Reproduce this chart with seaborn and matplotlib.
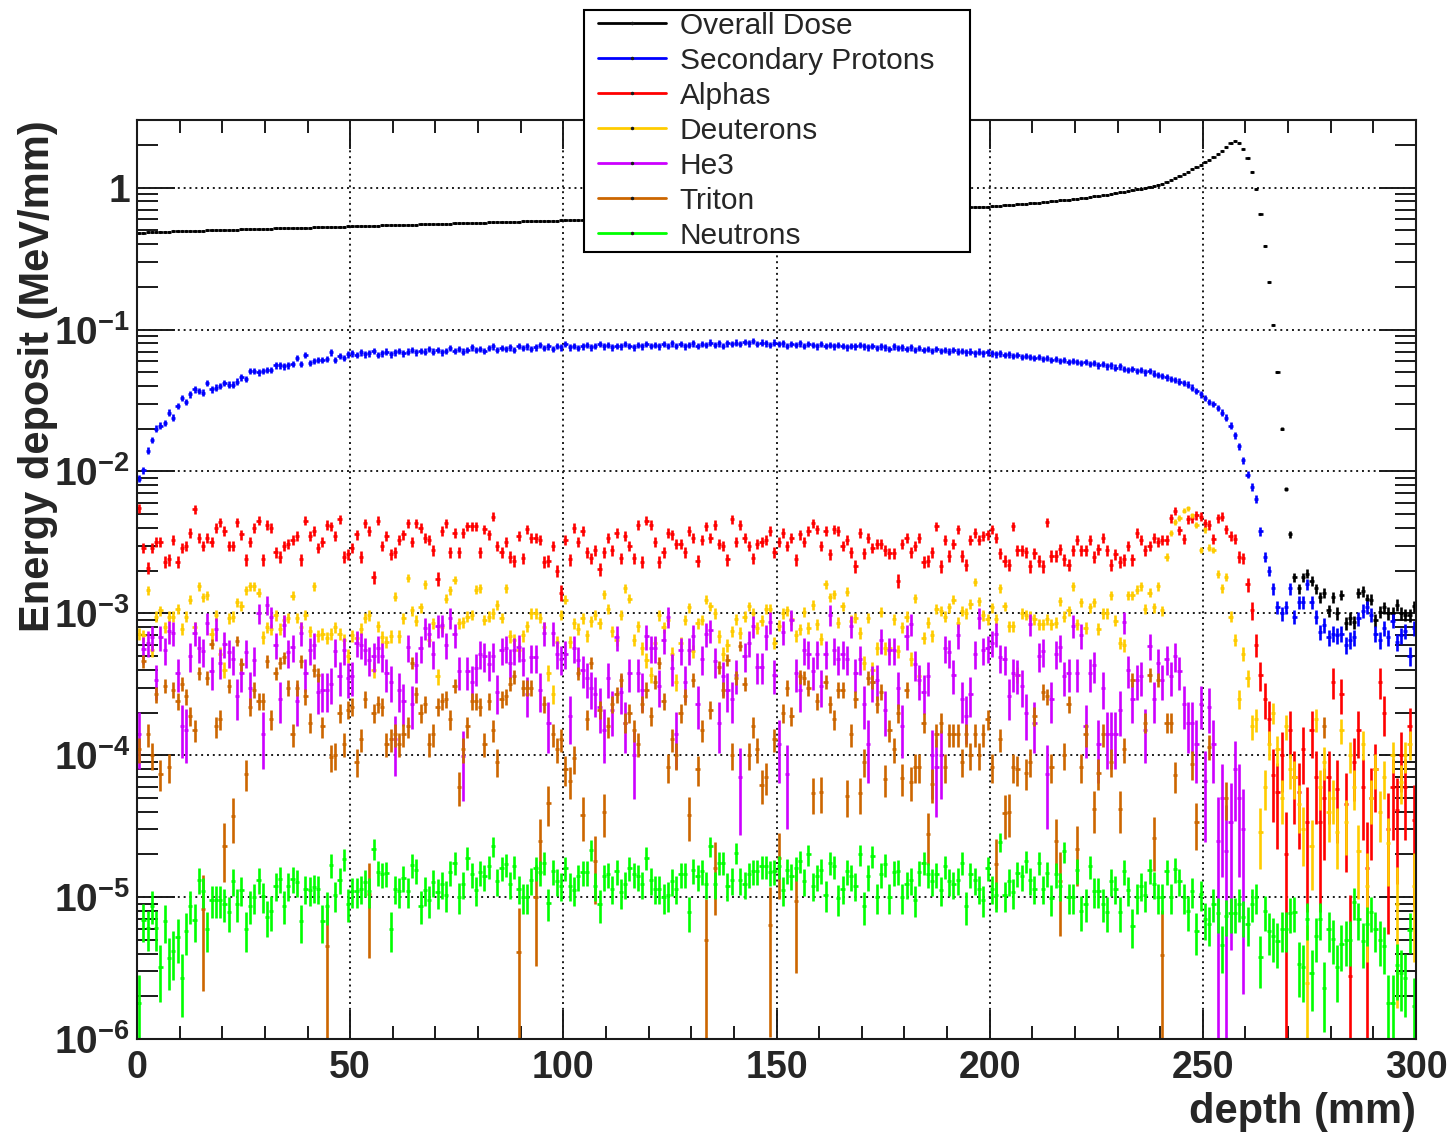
import numpy as np
import matplotlib
matplotlib.use("Agg")
import matplotlib.pyplot as plt
from matplotlib.lines import Line2D
from matplotlib.patches import Rectangle
from matplotlib.ticker import LogLocator, NullFormatter
import seaborn as sns

# Style
sns.set_theme(style="ticks")
plt.rcParams['font.family'] = ['Liberation Sans', 'DejaVu Sans']
plt.rcParams['mathtext.fontset'] = 'custom'
plt.rcParams['mathtext.bf'] = 'Liberation Sans:bold'
plt.rcParams['mathtext.rm'] = 'Liberation Sans:bold'
plt.rcParams['mathtext.default'] = 'bf'

nan = np.nan

# 1 mm bins, 0..300 mm
depth = np.arange(300) + 0.5

# Overall dose (MeV/mm)
overall_dose = np.array([
    0.480, 0.482, 0.484, 0.486, 0.487, 0.489, 0.490, 0.491, 0.492, 0.493,
    0.494, 0.495, 0.496, 0.497, 0.498, 0.499, 0.500, 0.501, 0.502, 0.503,
    0.504, 0.505, 0.506, 0.507, 0.508, 0.509, 0.510, 0.511, 0.512, 0.513,
    0.514, 0.515, 0.516, 0.517, 0.518, 0.519, 0.520, 0.521, 0.522, 0.523,
    0.524, 0.525, 0.526, 0.527, 0.528, 0.529, 0.530, 0.531, 0.532, 0.533,
    0.535, 0.536, 0.537, 0.538, 0.539, 0.540, 0.541, 0.542, 0.543, 0.544,
    0.545, 0.546, 0.547, 0.548, 0.549, 0.550, 0.551, 0.552, 0.553, 0.554,
    0.556, 0.557, 0.558, 0.559, 0.560, 0.561, 0.562, 0.563, 0.565, 0.566,
    0.567, 0.568, 0.569, 0.570, 0.572, 0.573, 0.574, 0.575, 0.576, 0.577,
    0.578, 0.579, 0.580, 0.582, 0.583, 0.584, 0.585, 0.586, 0.587, 0.588,
    0.590, 0.591, 0.592, 0.594, 0.595, 0.596, 0.598, 0.599, 0.600, 0.602,
    0.603, 0.604, 0.606, 0.607, 0.609, 0.610, 0.611, 0.613, 0.614, 0.616,
    0.617, 0.619, 0.620, 0.622, 0.623, 0.625, 0.626, 0.628, 0.629, 0.631,
    0.632, 0.634, 0.635, 0.637, 0.638, 0.640, 0.641, 0.643, 0.645, 0.646,
    0.648, 0.649, 0.651, 0.653, 0.654, 0.656, 0.657, 0.659, 0.661, 0.662,
    0.664, 0.666, 0.667, 0.669, 0.671, 0.672, 0.674, 0.676, 0.677, 0.679,
    0.681, 0.682, 0.684, 0.686, 0.688, 0.689, 0.691, 0.693, 0.695, 0.696,
    0.698, 0.700, 0.702, 0.703, 0.705, 0.707, 0.709, 0.711, 0.712, 0.713,
    0.714, 0.715, 0.716, 0.718, 0.719, 0.720, 0.721, 0.723, 0.724, 0.725,
    0.726, 0.727, 0.728, 0.729, 0.730, 0.731, 0.732, 0.733, 0.735, 0.736,
    0.738, 0.742, 0.746, 0.750, 0.754, 0.758, 0.763, 0.767, 0.772, 0.776,
    0.781, 0.786, 0.791, 0.796, 0.801, 0.807, 0.813, 0.819, 0.825, 0.831,
    0.838, 0.845, 0.852, 0.860, 0.868, 0.877, 0.886, 0.895, 0.905, 0.915,
    0.926, 0.937, 0.949, 0.961, 0.974, 0.987, 1.000, 1.015, 1.030, 1.050,
    1.07, 1.10, 1.13, 1.17, 1.21, 1.25, 1.30, 1.35, 1.40, 1.45,
    1.51, 1.58, 1.65, 1.73, 1.82, 1.92, 2.05, 2.12, 2.08, 1.88,
    1.62, 1.30, 0.98, 0.65, 0.39, 0.216, 0.108, 0.050, 0.020, 0.0075,
    0.0036, 0.0018, 0.0015, 0.0018, 0.0019, 0.0017, 0.0015, 0.0013, 0.0014, 0.00105,
    0.0013, 0.0010, 0.00135, 0.00085, 0.00092, 0.00087, 0.0014, 0.00143, 0.00126, 0.00125,
    0.0009, 0.00103, 0.0011, 0.0010, 0.0010, 0.00115, 0.0010, 0.00098, 0.00097, 0.00112,
])

# Secondary protons (MeV/mm)
protons = np.array([
    0.0089, 0.0102, 0.014, 0.0167, 0.020, 0.021, 0.022, 0.026, 0.024, 0.029,
    0.033, 0.031, 0.035, 0.038, 0.037, 0.036, 0.042, 0.038, 0.039, 0.040,
    0.042, 0.041, 0.041, 0.043, 0.046, 0.045, 0.051, 0.051, 0.050, 0.051,
    0.052, 0.052, 0.056, 0.056, 0.055, 0.056, 0.057, 0.063, 0.057, 0.066,
    0.058, 0.060, 0.061, 0.061, 0.062, 0.069, 0.061, 0.065, 0.063, 0.067,
    0.068, 0.066, 0.069, 0.067, 0.068, 0.071, 0.066, 0.068, 0.070, 0.067,
    0.069, 0.071, 0.068, 0.070, 0.072, 0.069, 0.071, 0.070, 0.073, 0.070,
    0.072, 0.069, 0.071, 0.074, 0.071, 0.073, 0.070, 0.072, 0.075, 0.072,
    0.073, 0.071, 0.074, 0.076, 0.072, 0.074, 0.073, 0.075, 0.072, 0.077,
    0.074, 0.076, 0.073, 0.075, 0.078, 0.074, 0.076, 0.073, 0.077, 0.075,
    0.079, 0.075, 0.077, 0.074, 0.076, 0.078, 0.075, 0.077, 0.079, 0.076,
    0.078, 0.075, 0.077, 0.076, 0.079, 0.077, 0.075, 0.078, 0.076, 0.079,
    0.077, 0.078, 0.076, 0.079, 0.077, 0.080, 0.077, 0.079, 0.076, 0.078,
    0.080, 0.077, 0.079, 0.078, 0.081, 0.078, 0.080, 0.077, 0.080, 0.079,
    0.081, 0.079, 0.082, 0.080, 0.083, 0.079, 0.081, 0.080, 0.078, 0.081,
    0.079, 0.080, 0.077, 0.079, 0.078, 0.080, 0.077, 0.079, 0.078, 0.076,
    0.079, 0.077, 0.078, 0.076, 0.078, 0.077, 0.075, 0.077, 0.076, 0.078,
    0.076, 0.075, 0.077, 0.074, 0.076, 0.075, 0.073, 0.076, 0.074, 0.075,
    0.073, 0.075, 0.072, 0.074, 0.072, 0.073, 0.071, 0.073, 0.071, 0.072,
    0.070, 0.072, 0.070, 0.071, 0.069, 0.070, 0.068, 0.070, 0.068, 0.069,
    0.068, 0.067, 0.068, 0.066, 0.067, 0.065, 0.066, 0.064, 0.065, 0.064,
    0.063, 0.064, 0.062, 0.063, 0.061, 0.062, 0.060, 0.061, 0.059, 0.060,
    0.059, 0.058, 0.059, 0.057, 0.058, 0.056, 0.057, 0.055, 0.056, 0.054,
    0.055, 0.053, 0.052, 0.053, 0.051, 0.052, 0.050, 0.051, 0.049, 0.048,
    0.047, 0.046, 0.045, 0.044, 0.043, 0.042, 0.041, 0.039, 0.037, 0.035,
    0.033, 0.031, 0.030, 0.028, 0.026, 0.024, 0.021, 0.018, 0.015, 0.012,
    0.0095, 0.0078, 0.0064, 0.0038, 0.0025, 0.0020, 0.0015, 0.0011, 0.0010, 0.0011,
    0.0015, 0.00095, 0.0012, 0.0012, 0.0016, 0.0012, 0.00095, 0.00074, 0.00083, 0.00068,
    0.00072, 0.00070, 0.00072, 0.00060, 0.00065, 0.00068, 0.00092, 0.00104, 0.0011, 0.00098,
    0.00072, 0.00065, 0.00079, 0.00068, 0.00089, 0.00063, 0.00070, 0.00075, 0.00050, 0.00079,
])

# Alphas (x 1e-3 MeV/mm)
alphas = np.array([
    5.5, 2.9, 2.1, 2.9, 3.2, 3.2, 2.3, 2.4, 3.3, 2.3,
    2.9, 3.0, 3.7, 5.4, 3.4, 3.0, 3.4, 3.2, 4.0, 4.4,
    3.8, 3.0, 3.0, 4.4, 3.6, 2.4, 3.2, 4.0, 4.5, 2.4,
    4.2, 4.0, 2.7, 2.5, 3.0, 3.1, 3.3, 3.5, 2.4, 4.5,
    3.5, 3.8, 2.9, 3.2, 4.2, 4.1, 3.5, 4.6, 2.5, 2.6,
    2.9, 3.6, 2.5, 4.3, 3.8, 1.8, 4.5, 3.0, 3.5, 2.6,
    2.7, 3.3, 3.6, 4.3, 3.2, 4.3, 4.0, 3.4, 3.3, 2.8,
    1.75, 3.8, 4.3, 2.7, 3.7, 2.7, 3.7, 4.1, 4.1, 4.1,
    2.7, 3.9, 3.6, 4.8, 3.0, 2.7, 3.2, 2.5, 2.35, 3.5,
    2.45, 3.9, 3.4, 3.4, 3.3, 2.3, 2.35, 3.0, 2.0, 1.4,
    3.3, 2.4, 4.0, 3.2, 3.8, 2.7, 2.45, 2.8, 2.05, 2.7,
    3.4, 2.8, 3.7, 2.45, 3.5, 3.0, 2.45, 4.2, 2.3, 4.5,
    4.2, 3.2, 2.3, 2.7, 3.7, 3.6, 3.1, 3.1, 2.7, 3.8,
    3.4, 2.35, 3.3, 4.1, 3.4, 4.2, 3.1, 3.0, 2.4, 4.6,
    3.2, 4.2, 3.4, 3.0, 2.45, 3.1, 3.2, 3.3, 3.8, 2.7,
    3.2, 3.7, 3.0, 3.4, 2.4, 3.6, 3.2, 3.8, 4.3, 3.9,
    3.0, 3.8, 2.6, 3.9, 3.8, 3.0, 3.3, 2.7, 2.15, 3.7,
    2.65, 3.4, 2.9, 3.1, 3.1, 2.8, 2.65, 2.65, 1.7, 3.1,
    3.4, 2.7, 3.0, 3.4, 2.3, 2.35, 2.7, 4.1, 2.15, 3.3,
    2.55, 3.1, 3.9, 2.55, 2.2, 3.3, 3.7, 3.3, 3.5, 3.6,
    3.9, 3.4, 2.65, 2.35, 2.2, 4.1, 2.8, 2.8, 2.7, 2.15,
    2.65, 2.35, 2.15, 4.4, 2.55, 2.55, 2.85, 2.4, 2.2, 2.8,
    3.3, 2.8, 2.8, 3.3, 2.5, 2.85, 3.4, 2.8, 2.2, 2.6,
    2.3, 2.4, 3.0, 2.4, 3.7, 3.3, 2.8, 3.0, 3.4, 3.2,
    3.3, 3.3, 4.7, 5.3, 3.85, 3.35, 4.6, 4.7, 4.9, 4.8,
    4.3, 4.2, 3.35, 4.7, 4.8, 3.9, 3.5, 3.35, 2.5, 2.45,
    1.6, 1.05, 0.6, 0.37, 0.25, 0.18, 0.072, 0.055, 0.10, 0.02,
    0.15, 0.07, 0.055, 0.11, 0.034, 0.15, 0.07, 0.034, 0.05, 0.07,
    0.33, 0.058, 0.27, 0.045, 0.0028, 0.09, 0.15, 0.06, 0.016, 0.05,
    0.08, 0.33, 0.20, 0.03, 0.06, 0.041, 0.1, 0.06, 0.16, 0.035,
]) * 1e-3

# Deuterons (x 1e-3 MeV/mm)
deuterons = np.array([
    0.72, 0.70, 1.46, 0.55, 0.95, 1.05, 0.80, 0.95, 0.95, 1.07,
    0.78, 0.95, 1.25, 0.80, 1.55, 1.30, 1.35, 0.72, 0.97, 0.52,
    0.40, 0.92, 0.95, 1.2, 1.13, 1.45, 1.55, 1.55, 1.40, 0.68,
    0.80, 0.77, 0.97, 0.78, 0.90, 0.93, 1.33, 0.93, 0.80, 0.98,
    0.75, 1.55, 0.70, 0.72, 0.67, 0.72, 0.80, 0.72, 0.65, 0.50,
    0.70, 0.67, 0.78, 0.93, 0.97, 0.40, 0.81, 0.68, 0.63, 0.69,
    1.31, 0.69, 0.92, 1.77, 1.05, 0.89, 1.1, 1.6, 0.65, 0.85,
    0.36, 0.8, 1.27, 1.45, 1.72, 0.85, 0.87, 0.95, 0.98, 1.47,
    1.5, 0.9, 0.95, 1.0, 1.15, 0.93, 1.5, 0.69, 0.65, 0.55,
    0.7, 0.81, 1.0, 1.0, 0.93, 0.8, 0.38, 0.27, 0.63, 0.98,
    1.25, 0.63, 0.85, 0.78, 0.92, 0.7, 0.88, 0.98, 0.85, 1.37,
    1.08, 0.75, 0.65, 0.98, 1.5, 1.27, 0.65, 0.81, 0.57, 0.47,
    0.37, 0.62, 0.97, 0.8, 0.9, 0.52, 0.33, 0.62, 0.9, 1.1,
    0.54, 0.85, 0.9, 1.25, 1.12, 1.0, 0.69, 0.52, 0.6, 0.75,
    0.91, 0.73, 0.95, 1.12, 1.0, 0.79, 0.89, 1.08, 1.08, 0.62,
    0.82, 1.0, 1.05, 0.91, 0.7, 0.77, 1.03, 0.79, 1.15, 0.84,
    0.66, 1.6, 1.3, 1.37, 0.86, 1.12, 1.42, 0.89, 0.93, 0.73,
    0.45, 0.93, 0.4, 0.57, 1.03, 0.57, 0.57, 0.91, 0.54, 0.8,
    0.95, 0.48, 1.28, 0.36, 0.67, 0.86, 0.7, 1.08, 1.04, 0.95,
    1.1, 1.25, 0.86, 1.04, 1.0, 1.17, 1.67, 1.22, 0.97, 0.91,
    1.1, 0.91, 1.5, 1.12, 0.81, 0.81, 0.37, 1.0, 0.98, 0.95,
    0.91, 0.84, 0.84, 0.91, 0.84, 0.86, 1.22, 0.95, 1.05, 1.55,
    0.84, 1.2, 0.79, 1.1, 1.2, 0.78, 1.0, 1.0, 1.35, 0.89,
    0.62, 0.6, 1.35, 1.35, 1.47, 1.55, 1.08, 1.4, 1.1, 1.55,
    1.05, 2.5, 3.7, 4.4, 4.7, 5.3, 5.5, 4.9, 4.2, 2.8,
    3.9, 2.9, 2.8, 1.9, 1.5, 1.8, 0.95, 0.65, 0.25, 0.52,
    0.35, 0.16, 0.18, 0.029, 0.06, 0.12, 0.20, 0.11, 0.05, 0.16,
    0.08, 0.07, 0.045, 0.03, 0.0025, 0.023, 0.18, 0.06, 0.09, 0.04,
    0.05, 0.029, 0.15, 0.034, 0.10, 0.06, 0.021, 0.12, 0.012, 0.05,
    0.08, 0.04, 0.07, 0.024, 0.1, 0.009, 0.065, 0.10, 0.12, 0.012,
]) * 1e-3

# He3 (x 1e-3 MeV/mm)
he3 = np.array([
    0.14, 0.56, 0.62, 0.68, 0.34, 0.68, 0.55, 0.75, 0.73, 0.38,
    0.16, 0.15, 0.5, 0.73, 0.57, 0.54, 0.85, 0.39, 0.78, 0.45,
    0.61, 0.53, 0.48, 0.26, 0.38, 0.53, 0.3, 0.47, 1.0, 0.14,
    1.15, 0.95, 0.6, 0.25, 0.83, 0.53, 0.58, 0.24, 0.73, 0.38,
    0.55, 0.6, 0.28, 0.29, 0.29, 0.32, 0.54, 0.36, 0.55, 0.35,
    0.36, 0.62, 0.6, 0.55, 0.47, 0.5, 0.57, 0.5, 0.38, 0.33,
    0.13, 0.29, 0.24, 0.58, 0.23, 0.43, 0.57, 0.79, 0.72, 0.52,
    0.82, 0.83, 0.6, 0.93, 0.71, 0.39, 0.098, 0.39, 0.33, 0.41,
    0.52, 0.5, 0.44, 0.5, 0.28, 0.55, 0.57, 0.45, 0.55, 0.58,
    0.47, 0.27, 0.49, 0.49, 0.29, 0.73, 0.17, 0.73, 0.52, 0.48,
    0.52, 0.19, 0.57, 0.47, 0.4, 0.35, 0.3, 0.27, 0.22, 0.15,
    0.35, 0.21, 0.68, 0.28, 0.17, 0.38, 0.1, 0.38, 0.29, 0.69,
    0.57, 0.57, 0.31, 0.65, 0.95, 0.41, 0.14, 0.55, 0.33, 0.55,
    0.69, 0.23, 0.48, 0.72, 0.76, 0.46, 0.17, 0.36, 0.29, 0.25,
    0.37, 0.07, 0.5, 0.62, 0.81, 0.42, 0.42, 0.69, 0.87, 0.37,
    0.12, 0.74, 0.074, 0.9, 0.38, 0.29, 0.55, 0.52, 0.39, 0.52,
    0.31, 0.52, 0.98, 0.55, 0.48, 0.52, 0.48, 0.81, 0.38, 0.48,
    0.23, 0.12, 0.33, 0.34, 0.65, 0.21, 0.55, 0.55, 0.3, 0.16,
    0.69, 0.84, 0.44, 0.34, 0.28, 0.36, 0.1, 0.083, 0.1, 0.57,
    0.53, 0.37, 0.7, 0.25, 0.19, 0.27, 0.52, 0.93, 0.55, 0.57,
    0.62, 0.72, 0.49, 0.48, 0.26, 0.38, 0.37, 0.31, 0.2, 0.84,
    0.17, 0.5, 0.54, 0.074, 0.25, 0.52, 0.58, 0.36, 0.38, 0.82,
    0.38, 0.7, 0.16, 0.38, 0.43, 0.12, 0.3, 0.14, 0.14, 0.14,
    0.21, 0.87, 0.4, 0.25, 0.34, 0.36, 0.15, 0.59, 0.25, 0.45,
    0.34, 0.48, 0.36, 0.5, 0.39, 0.23, 0.17, 0.17, 0.12, 0.23,
    0.066, 0.22, 0.12, 0.025, 0.05, 0.021, 0.034, 0.08, 0.05, 0.03,
    nan, nan, nan, nan, nan, nan, nan, nan, nan, nan,
    nan, nan, nan, nan, nan, nan, nan, nan, nan, nan,
    nan, nan, nan, nan, nan, nan, nan, nan, nan, nan,
    nan, nan, nan, nan, nan, nan, nan, nan, nan, nan,
]) * 1e-3

# Triton (x 1e-3 MeV/mm)
triton = np.array([
    0.11, 0.46, 0.14, 0.1, 0.27, 0.074, 0.31, 0.083, 0.29, 0.24,
    0.32, 0.26, 0.19, 0.15, 0.38, 0.0083, 0.35, 0.61, 0.16, 0.18,
    0.023, 0.31, 0.037, 0.64, 0.44, 0.074, 0.22, 0.29, 0.24, 0.24,
    0.46, 0.18, 0.38, 0.45, 0.49, 0.3, 0.14, 0.3, 0.46, 0.26,
    0.17, 0.4, 0.37, 0.16, 0.0045, 0.097, 0.1, 0.2, 0.12, 0.21,
    0.22, 0.09, 0.13, 0.25, 0.0106, 0.2, 0.23, 0.22, 0.12, 0.13,
    0.14, 0.12, 0.14, 0.16, 0.45, 0.27, 0.2, 0.23, 0.12, 0.14,
    0.22, 0.24, 0.25, 0.18, 0.31, 0.06, 0.11, 0.16, 0.24, 0.24,
    0.22, 0.12, 0.24, 0.15, 0.09, 0.25, 0.26, 0.32, 0.36, 0.0041,
    0.3, 0.3, 0.3, 0.01, 0.025, 0.23, 0.046, 0.14, 0.11, 0.13,
    0.08, 0.066, 0.095, 0.38, 0.038, 0.18, 0.45, 0.018, 0.21, 0.04,
    0.16, 0.23, 0.27, 0.34, 0.17, 0.2, 0.15, 0.12, 0.23, 0.29,
    0.19, 0.33, 0.45, 0.24, 0.083, 0.13, 0.1, 0.2, 0.26, 0.038,
    0.34, 0.08, 0.15, 0.005, 0.21, 0.016, 0.42, 0.29, 0.47, 0.1,
    0.35, 0.59, 0.32, 0.1, 0.16, 0.11, 0.062, 0.07, 0.0064, 0.13,
    0.019, 0.2, 0.3, 0.19, 0.0094, 0.36, 0.35, 0.3, 0.054, 0.24,
    0.055, 0.33, 0.23, 0.18, 0.29, 0.29, 0.052, 0.14, 0.25, 0.054,
    0.09, 0.35, 0.33, 0.23, 0.28, 0.068, 0.15, 0.11, 0.2, 0.069,
    0.29, 0.065, 0.083, 0.083, 0.17, 0.028, 0.063, 0.14, 0.17, 0.083,
    0.14, 0.14, 0.14, 0.09, 0.14, 0.1, 0.14, 0.1, 0.14, 0.18,
    0.083, 0.017, 0.13, 0.039, 0.04, 0.083, 0.08, nan, 0.075, 0.09,
    0.19, nan, 0.28, 0.26, 0.083, 0.025, 0.013, 0.1, 0.23, nan,
    0.022, 0.083, 0.14, nan, 0.042, 0.075, 0.14, nan, 0.09, nan,
    0.042, 0.11, nan, 0.34, nan, nan, 0.17, 0.37, 0.026, 0.34,
    0.0039, 0.17, 0.17, 0.072, nan, nan, nan, 0.087, 0.034, nan,
    nan, 0.115, nan, nan, nan, 0.05, nan, nan, nan, nan,
    nan, nan, nan, nan, nan, nan, nan, nan, nan, nan,
    nan, nan, nan, nan, nan, nan, nan, nan, 0.16, nan,
    nan, nan, nan, nan, nan, nan, nan, nan, nan, nan,
    nan, nan, nan, nan, nan, nan, nan, nan, nan, nan,
]) * 1e-3

# Neutrons (x 1e-5 MeV/mm)
neutrons = np.array([
    0.18, 0.69, 0.61, 0.87, 0.61, 0.32, 0.68, 0.37, 0.42, 0.52,
    0.27, 0.58, 0.87, 0.69, 1.33, 1.1, 0.6, 0.95, 0.95, 0.95,
    0.9, 0.78, 1.3, 0.9, 1.12, 0.6, 0.87, 1.0, 1.33, 1.02,
    0.73, 0.8, 1.2, 1.35, 0.87, 1.2, 1.35, 1.27, 0.68, 1.15,
    1.12, 1.17, 1.15, 0.68, 0.86, 1.68, 1.03, 1.33, 1.85, 0.9,
    1.1, 1.1, 1.15, 1.27, 1.1, 2.2, 1.5, 1.45, 1.47, 0.6,
    1.15, 1.1, 1.37, 1.1, 1.68, 1.55, 0.87, 1.12, 0.95, 1.27,
    1.08, 1.24, 1.04, 1.5, 1.75, 1.01, 1.24, 1.9, 1.45, 1.13,
    1.5, 1.4, 1.65, 2.3, 1.3, 1.6, 1.7, 1.24, 1.65, 1.15,
    1.0, 1.0, 1.32, 1.6, 1.5, 1.75, 0.91, 1.52, 1.3, 1.2,
    1.6, 1.2, 1.13, 1.4, 1.5, 1.5, 2.15, 1.2, 0.89, 1.4,
    1.45, 1.15, 1.52, 1.08, 1.24, 1.6, 1.45, 1.4, 1.24, 1.9,
    1.32, 1.15, 1.15, 1.0, 1.03, 1.3, 1.15, 1.45, 1.45, 0.79,
    1.55, 1.4, 1.52, 1.24, 2.3, 1.24, 1.75, 1.75, 1.2, 1.32,
    2.05, 1.32, 1.24, 1.45, 1.52, 1.52, 1.65, 1.65, 1.5, 1.52,
    1.65, 1.13, 1.55, 1.42, 1.6, 1.8, 1.3, 2.0, 1.2, 1.4,
    1.55, 1.04, 1.75, 1.65, 0.98, 1.15, 1.52, 1.4, 1.2, 2.0,
    0.86, 1.4, 1.95, 1.0, 1.45, 1.7, 1.0, 1.5, 1.52, 1.0,
    1.24, 1.32, 0.96, 1.5, 1.75, 1.45, 1.3, 1.45, 1.13, 1.65,
    1.3, 1.24, 1.32, 1.75, 0.86, 1.45, 1.32, 1.15, 0.96, 1.6,
    1.15, 1.03, 2.45, 1.03, 1.3, 1.08, 1.48, 1.4, 1.8, 1.32,
    1.15, 1.75, 1.15, 1.48, 0.98, 1.45, 1.2, 2.1, 1.0, 1.0,
    1.55, 0.8, 0.9, 1.65, 1.1, 1.1, 0.9, 0.79, 1.3, 1.15,
    0.79, 1.52, 1.13, 0.63, 1.0, 1.2, 1.04, 1.55, 1.24, 1.0,
    1.0, 1.52, 1.0, 1.57, 1.3, 1.0, 0.8, 1.1, 0.58, 1.05,
    0.7, 0.65, 0.9, 0.77, 0.46, 0.74, 0.77, 0.77, 0.9, 0.73,
    0.65, 0.9, 1.0, 0.38, 0.8, 0.58, 0.53, 0.49, 0.6, 0.6,
    0.77, 0.78, 0.34, 0.32, 0.7, 0.29, 0.53, 0.7, 0.23, 0.6,
    0.51, 0.32, 0.47, 0.5, 0.5, 0.93, 0.7, 0.49, 0.65, 0.78,
    0.6, 0.5, 0.45, 0.18, 0.18, 0.33, 0.29, 0.27, 0.59, 0.17,
]) * 1e-5

labels = ["Overall Dose", "Secondary Protons", "Alphas", "Deuterons", "He3", "Triton", "Neutrons"]
colors = ["#000000", "#0000ff", "#ff0000", "#ffcc00", "#cc00ff", "#cc6600", "#00ff00"]
# energy of a single hit in each channel -> statistical part of the error bars
hit_unit = [1e-5, 1e-5, 2e-5, 6e-6, 2.6e-5, 4.5e-6, 6e-7]
# systematic relative error floor
rel_floor = [0.0, 0.05, 0.03, 0.03, 0.0, 0.0, 0.0]
values = [overall_dose, protons, alphas, deuterons, he3, triton, neutrons]

xticks = [0, 50, 100, 150, 200, 250, 300]
xtick_labels = ["0", "50", "100", "150", "200", "250", "300"]
yticks = [1e-6, 1e-5, 1e-4, 1e-3, 1e-2, 1e-1, 1]
ytick_labels = ["$10^{-6}$", "$10^{-5}$", "$10^{-4}$", "$10^{-3}$", "$10^{-2}$", "$10^{-1}$", "1"]

W, H = 1455, 1136
fig = plt.figure(figsize=(W / 100, H / 100), dpi=100)
ax = fig.add_axes([137 / W, 1 - 1039 / H, 1279 / W, 919 / H])
ax.set_yscale('log')

for lab, vals, col, unit, flo in zip(labels, values, colors, hit_unit, rel_floor):
    m = np.isfinite(vals) & (vals > 0)
    x = depth[m]
    y = vals[m]
    err = np.sqrt(y * unit + (flo * y) ** 2)
    lo = np.minimum(err, y - 1e-9)
    ax.errorbar(x, y, xerr=0.5, yerr=[lo, err], fmt='none', ecolor=col,
                elinewidth=1.9, capsize=0)
    sns.scatterplot(x=x, y=y, color='k', s=5, linewidth=0, ax=ax, legend=False)

ax.set_xlim(0, 300)
ax.set_ylim(1e-6, 3.0)

ax.set_xticks(xticks, xtick_labels, fontsize=27, fontweight='bold')
ax.set_yticks(yticks, ytick_labels, fontsize=28, fontweight='bold')
ax.xaxis.set_minor_locator(matplotlib.ticker.MultipleLocator(10))
ax.yaxis.set_minor_locator(LogLocator(base=10, subs=np.arange(2, 10), numticks=30))
ax.yaxis.set_minor_formatter(NullFormatter())

ax.tick_params(which='both', direction='in', top=True, right=True, color='k', width=1.4)
ax.tick_params(axis='x', which='major', length=21, pad=8)
ax.tick_params(axis='x', which='minor', length=9.5)
ax.tick_params(axis='y', which='major', length=27, pad=5)
ax.tick_params(axis='y', which='minor', length=15)

ax.grid(True, which='major', color='k', linestyle=(0, (1, 2)), linewidth=1.4)
ax.set_axisbelow(True)
for sp in ax.spines.values():
    sp.set_linewidth(1.5)
    sp.set_color('k')

ax.set_xlabel("depth (mm)", fontsize=30, fontweight='bold', loc='right')
ax.set_ylabel("Energy deposit (MeV/mm)", fontsize=30, fontweight='bold', loc='top')
ax.xaxis.set_label_coords(1.0, -0.058)
ax.yaxis.set_label_coords(-0.062, 1.0)

# legend box
fig.patches.append(Rectangle((584 / W, 1 - 252 / H), 386 / W, 242 / H,
                             transform=fig.transFigure, facecolor='white',
                             edgecolor='black', linewidth=1.5, zorder=10))
handles = [Line2D([], [], color=c, lw=2, marker='o', markersize=1.5,
                  markerfacecolor='k', markeredgecolor='k') for c in colors]
leg = fig.legend(handles, labels, loc='upper left', bbox_to_anchor=(598 / W, 1 - 11.5 / H),
                 frameon=False, fontsize=21.5, borderpad=0, borderaxespad=0,
                 handlelength=2.27, handletextpad=0.47, labelspacing=0.235, numpoints=1)
leg.set_zorder(11)

fig.savefig("out.png", dpi=100)
